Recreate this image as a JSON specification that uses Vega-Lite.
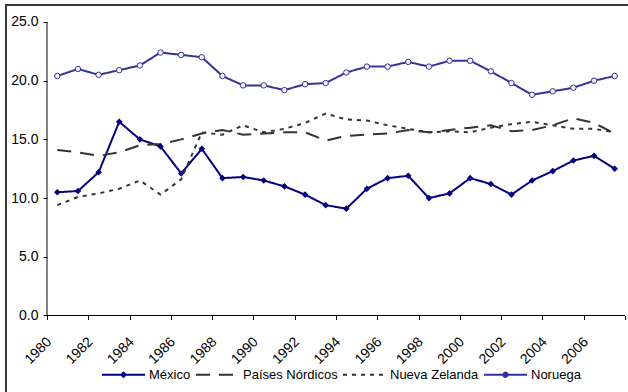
{
  "$schema": "https://vega.github.io/schema/vega-lite/v6.json",
  "width": 630,
  "height": 395,
  "autosize": {"type": "none"},
  "padding": {"left": 6, "top": 5, "right": -8, "bottom": -8},
  "background": "white",
  "config": {
    "font": "Liberation Sans",
    "view": {"stroke": "#3a3a3a", "strokeWidth": 2},
    "axis": {
      "grid": false,
      "domain": false,
      "tickColor": "black",
      "tickSize": 4,
      "tickWidth": 1,
      "labelColor": "black",
      "labelFontSize": 14,
      "labelFont": "Liberation Sans",
      "title": null
    }
  },
  "data": {
    "values": [
      {"year": 1980, "México": 10.5, "Países Nórdicos": 14.1, "Nueva Zelanda": 9.4, "Noruega": 20.4},
      {"year": 1981, "México": 10.6, "Países Nórdicos": 13.9, "Nueva Zelanda": 10.1, "Noruega": 21.0},
      {"year": 1982, "México": 12.2, "Países Nórdicos": 13.6, "Nueva Zelanda": 10.4, "Noruega": 20.5},
      {"year": 1983, "México": 16.5, "Países Nórdicos": 13.9, "Nueva Zelanda": 10.8, "Noruega": 20.9},
      {"year": 1984, "México": 15.0, "Países Nórdicos": 14.5, "Nueva Zelanda": 11.5, "Noruega": 21.3},
      {"year": 1985, "México": 14.4, "Países Nórdicos": 14.6, "Nueva Zelanda": 10.3, "Noruega": 22.4},
      {"year": 1986, "México": 12.1, "Países Nórdicos": 15.0, "Nueva Zelanda": 11.6, "Noruega": 22.2},
      {"year": 1987, "México": 14.2, "Países Nórdicos": 15.5, "Nueva Zelanda": 15.6, "Noruega": 22.0},
      {"year": 1988, "México": 11.7, "Países Nórdicos": 15.8, "Nueva Zelanda": 15.4, "Noruega": 20.4},
      {"year": 1989, "México": 11.8, "Países Nórdicos": 15.4, "Nueva Zelanda": 16.2, "Noruega": 19.6},
      {"year": 1990, "México": 11.5, "Países Nórdicos": 15.5, "Nueva Zelanda": 15.6, "Noruega": 19.6},
      {"year": 1991, "México": 11.0, "Países Nórdicos": 15.6, "Nueva Zelanda": 15.9, "Noruega": 19.2},
      {"year": 1992, "México": 10.3, "Países Nórdicos": 15.6, "Nueva Zelanda": 16.4, "Noruega": 19.7},
      {"year": 1993, "México": 9.4, "Países Nórdicos": 14.9, "Nueva Zelanda": 17.2, "Noruega": 19.8},
      {"year": 1994, "México": 9.1, "Países Nórdicos": 15.3, "Nueva Zelanda": 16.7, "Noruega": 20.7},
      {"year": 1995, "México": 10.8, "Países Nórdicos": 15.4, "Nueva Zelanda": 16.6, "Noruega": 21.2},
      {"year": 1996, "México": 11.7, "Países Nórdicos": 15.5, "Nueva Zelanda": 16.2, "Noruega": 21.2},
      {"year": 1997, "México": 11.9, "Países Nórdicos": 15.8, "Nueva Zelanda": 15.9, "Noruega": 21.6},
      {"year": 1998, "México": 10.0, "Países Nórdicos": 15.6, "Nueva Zelanda": 15.6, "Noruega": 21.2},
      {"year": 1999, "México": 10.4, "Países Nórdicos": 15.8, "Nueva Zelanda": 15.7, "Noruega": 21.7},
      {"year": 2000, "México": 11.7, "Países Nórdicos": 16.0, "Nueva Zelanda": 15.6, "Noruega": 21.7},
      {"year": 2001, "México": 11.2, "Países Nórdicos": 16.2, "Nueva Zelanda": 16.0, "Noruega": 20.8},
      {"year": 2002, "México": 10.3, "Países Nórdicos": 15.7, "Nueva Zelanda": 16.3, "Noruega": 19.8},
      {"year": 2003, "México": 11.5, "Países Nórdicos": 15.8, "Nueva Zelanda": 16.5, "Noruega": 18.8},
      {"year": 2004, "México": 12.3, "Países Nórdicos": 16.2, "Nueva Zelanda": 16.2, "Noruega": 19.1},
      {"year": 2005, "México": 13.2, "Países Nórdicos": 16.8, "Nueva Zelanda": 15.9, "Noruega": 19.4},
      {"year": 2006, "México": 13.6, "Países Nórdicos": 16.4, "Nueva Zelanda": 15.9, "Noruega": 20.0},
      {"year": 2007, "México": 12.5, "Países Nórdicos": 15.5, "Nueva Zelanda": 15.6, "Noruega": 20.4}
    ]
  },
  "layer": [
    {
      "transform": [{"fold": ["México", "Países Nórdicos", "Nueva Zelanda", "Noruega"], "as": ["serie", "valor"]}],
      "mark": {"type": "line", "strokeWidth": 2},
      "encoding": {
        "x": {
          "field": "year", "type": "quantitative",
          "scale": {"domain": [1977.514, 2008.033], "nice": false, "zero": false},
          "axis": {
            "orient": "bottom",
            "offset": -84.5,
            "values": [1979.5, 1980.5, 1981.5, 1982.5, 1983.5, 1984.5, 1985.5, 1986.5, 1987.5, 1988.5, 1989.5, 1990.5, 1991.5, 1992.5, 1993.5, 1994.5, 1995.5, 1996.5, 1997.5, 1998.5, 1999.5, 2000.5, 2001.5, 2002.5, 2003.5, 2004.5, 2005.5, 2006.5, 2007.5],
            "labelExpr": "(datum.value + 0.5) % 2 === 0 && datum.value < 2007 ? format(datum.value + 0.5, 'd') : ''",
            "labelAngle": -45,
            "labelOffset": -3,
            "labelPadding": 15,
            "labelOverlap": false,
            "labelBound": false,
            "labelFlush": false
          }
        },
        "y": {
          "field": "valor", "type": "quantitative",
          "scale": {"domain": [-7.198, 26.448], "nice": false, "zero": false},
          "axis": {
            "orient": "left",
            "offset": -41,
            "values": [0, 5, 10, 15, 20, 25],
            "format": ".1f",
            "labelPadding": 5
          }
        },
        "color": {
          "field": "serie", "type": "nominal",
          "scale": {"domain": ["México", "Países Nórdicos", "Nueva Zelanda", "Noruega"], "range": ["#000080", "#333333", "#333333", "#333399"]},
          "legend": {"title": null, "orient": "none", "legendX": 95, "legendY": 347, "direction": "horizontal", "symbolSize": 1849, "symbolStrokeWidth": 2, "labelFontSize": 13, "labelFont": "Liberation Sans", "labelColor": "black", "labelOffset": 3, "columnPadding": 1}
        },
        "strokeDash": {
          "field": "serie", "type": "nominal",
          "scale": {"domain": ["México", "Países Nórdicos", "Nueva Zelanda", "Noruega"], "range": [[1, 0], [14, 9], [4, 5], [1, 0]]},
          "legend": {"title": null, "orient": "none", "legendX": 95, "legendY": 347, "direction": "horizontal", "symbolSize": 1849, "symbolStrokeWidth": 2, "labelFontSize": 13, "labelFont": "Liberation Sans", "labelColor": "black", "labelOffset": 3, "columnPadding": 1}
        }
      }
    },
    {
      "transform": [
        {"fold": ["México", "Países Nórdicos", "Nueva Zelanda", "Noruega"], "as": ["serie", "valor"]},
        {"filter": "datum.serie === 'México'"}
      ],
      "mark": {"type": "point", "filled": true, "opacity": 1, "size": 4356},
      "encoding": {
        "x": {"field": "year", "type": "quantitative", "scale": {"domain": [1977.514, 2008.033], "nice": false, "zero": false}},
        "y": {"field": "valor", "type": "quantitative", "scale": {"domain": [-7.198, 26.448], "nice": false, "zero": false}},
        "color": {"field": "serie", "type": "nominal"},
        "shape": {
          "field": "serie", "type": "nominal",
          "scale": {
            "domain": ["México", "Países Nórdicos", "Nueva Zelanda", "Noruega"],
            "range": [
              "M-1,0H1M0,-0.1L0.1,0L0,0.1L-0.1,0Z",
              "M-1,0H1",
              "M-1,0H1",
              "M-1,0H1M0.1,0A0.1,0.1,0,1,1,-0.1,0A0.1,0.1,0,1,1,0.1,0Z"
            ]
          },
          "legend": {"title": null, "orient": "none", "legendX": 95, "legendY": 347, "direction": "horizontal", "symbolSize": 1849, "symbolStrokeWidth": 2, "labelFontSize": 13, "labelFont": "Liberation Sans", "labelColor": "black", "labelOffset": 3, "columnPadding": 1}
        }
      }
    },
    {
      "transform": [
        {"fold": ["México", "Países Nórdicos", "Nueva Zelanda", "Noruega"], "as": ["serie", "valor"]},
        {"filter": "datum.serie === 'Noruega'"}
      ],
      "mark": {"type": "point", "shape": "circle", "size": 30, "fill": "#f2f2ff", "stroke": "#333399", "strokeWidth": 1, "opacity": 1},
      "encoding": {
        "x": {"field": "year", "type": "quantitative", "scale": {"domain": [1977.514, 2008.033], "nice": false, "zero": false}},
        "y": {"field": "valor", "type": "quantitative", "scale": {"domain": [-7.198, 26.448], "nice": false, "zero": false}}
      }
    },
    {
      "data": {"values": [{}]},
      "mark": {"type": "rule", "color": "black", "strokeWidth": 1},
      "encoding": {
        "x": {"datum": 1979.5, "type": "quantitative", "scale": {"domain": [1977.514, 2008.033], "nice": false, "zero": false}},
        "y": {"datum": 0, "type": "quantitative", "scale": {"domain": [-7.198, 26.448], "nice": false, "zero": false}},
        "y2": {"datum": 25}
      }
    },
    {
      "data": {"values": [{}]},
      "mark": {"type": "rule", "color": "black", "strokeWidth": 1},
      "encoding": {
        "x": {"datum": 1979.5, "type": "quantitative", "scale": {"domain": [1977.514, 2008.033], "nice": false, "zero": false}},
        "x2": {"datum": 2007.5},
        "y": {"datum": 0, "type": "quantitative", "scale": {"domain": [-7.198, 26.448], "nice": false, "zero": false}}
      }
    }
  ]
}
